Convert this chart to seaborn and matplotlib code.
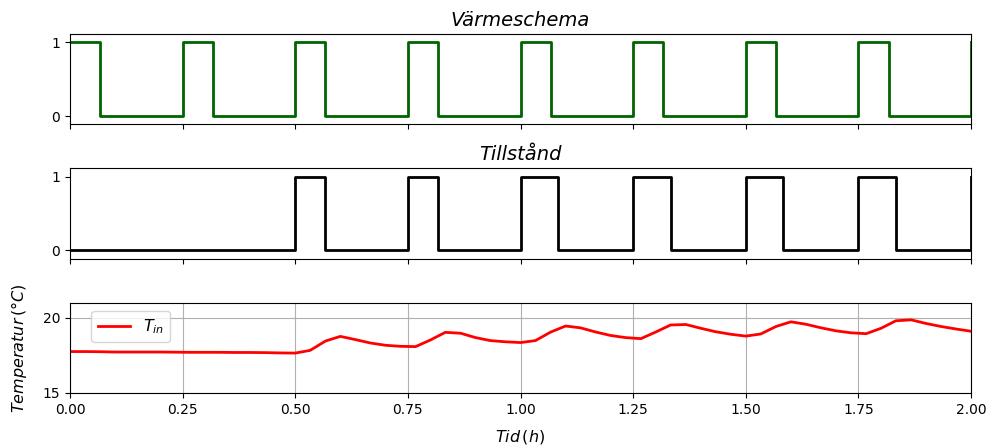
import numpy as np
import pandas as pd
import seaborn as sns
import matplotlib
matplotlib.use("Agg")
import matplotlib.pyplot as plt

# heating schedule (Värmeschema), step values, hours
sched_t = [0, 0.067, 0.25, 0.317, 0.5, 0.567, 0.75, 0.817, 1.0, 1.067,
           1.25, 1.317, 1.5, 1.567, 1.75, 1.817, 2.0]
sched_v = [1, 0, 1, 0, 1, 0, 1, 0, 1, 0, 1, 0, 1, 0, 1, 0, 1]

# heater state (Tillstånd)
state_t = [0, 0.5, 0.567, 0.75, 0.817, 1.0, 1.083, 1.25, 1.333,
           1.5, 1.583, 1.75, 1.833, 2.0]
state_v = [0, 1, 0, 1, 0, 1, 0, 1, 0, 1, 0, 1, 0, 1]

# indoor temperature, sampled every 2 minutes
temp_t = [0.0, 0.033, 0.067, 0.1, 0.133, 0.167, 0.2, 0.233, 0.267, 0.3,
          0.333, 0.367, 0.4, 0.433, 0.467, 0.5, 0.533, 0.567, 0.6, 0.633,
          0.667, 0.7, 0.733, 0.767, 0.8, 0.833, 0.867, 0.9, 0.933, 0.967,
          1.0, 1.033, 1.067, 1.1, 1.133, 1.167, 1.2, 1.233, 1.267, 1.3,
          1.333, 1.367, 1.4, 1.433, 1.467, 1.5, 1.533, 1.567, 1.6, 1.633,
          1.667, 1.7, 1.733, 1.767, 1.8, 1.833, 1.867, 1.9, 1.933, 1.967, 2.0]
temp_v = [17.75, 17.75, 17.74, 17.72, 17.72, 17.72, 17.72, 17.71, 17.70, 17.70,
          17.70, 17.69, 17.69, 17.68, 17.66, 17.65, 17.83, 18.45, 18.76, 18.55,
          18.32, 18.17, 18.10, 18.08, 18.52, 19.03, 18.97, 18.68, 18.48, 18.40,
          18.35, 18.48, 19.05, 19.45, 19.33, 19.05, 18.82, 18.68, 18.61, 19.05,
          19.52, 19.55, 19.30, 19.07, 18.90, 18.78, 18.92, 19.42, 19.73, 19.57,
          19.33, 19.13, 19.00, 18.94, 19.30, 19.80, 19.86, 19.62, 19.42, 19.25, 19.10]

sched = pd.DataFrame({"t": sched_t, "v": sched_v})
state = pd.DataFrame({"t": state_t, "v": state_v})
temp = pd.DataFrame({"t": temp_t, "T": temp_v})

fig, axes = plt.subplots(3, 1, figsize=(9.94, 4.48), dpi=100, sharex=True)
fig.subplots_adjust(left=0.0704, right=0.977, top=0.924, bottom=0.123, hspace=0.49)

ax1, ax2, ax3 = axes

sns.lineplot(data=sched, x="t", y="v", ax=ax1, color="darkgreen", lw=2,
             drawstyle="steps-post", estimator=None, sort=False)
ax1.set_title("Värmeschema", fontstyle="italic", fontsize=14)
ax1.set_ylim(-0.11, 1.11)
ax1.set_yticks([0, 1])
ax1.set_xlabel("")
ax1.set_ylabel("")

sns.lineplot(data=state, x="t", y="v", ax=ax2, color="k", lw=2,
             drawstyle="steps-post", estimator=None, sort=False)
ax2.set_title("Tillstånd", fontstyle="italic", fontsize=14)
ax2.set_ylim(-0.11, 1.11)
ax2.set_yticks([0, 1])
ax2.set_xlabel("")
ax2.set_ylabel("")

sns.lineplot(data=temp, x="t", y="T", ax=ax3, color="red", lw=2,
             label=r"$T_{in}$", estimator=None, sort=False)
ax3.set_ylim(15, 21)
ax3.set_yticks([15, 20])
ax3.set_xlim(0, 2)
ax3.set_xticks([0, 0.25, 0.5, 0.75, 1.0, 1.25, 1.5, 1.75, 2.0])
ax3.grid(True)
ax3.set_xlabel(r"$Tid\,(h)$", fontsize=11.5, labelpad=8)
ax3.set_ylabel(r"$Temperatur\,(°C)$", fontsize=11.5, labelpad=10)
ax3.legend(loc="upper left", bbox_to_anchor=(0.015, 1.0), fontsize=11.5)

fig.savefig("out.png", dpi=100)
